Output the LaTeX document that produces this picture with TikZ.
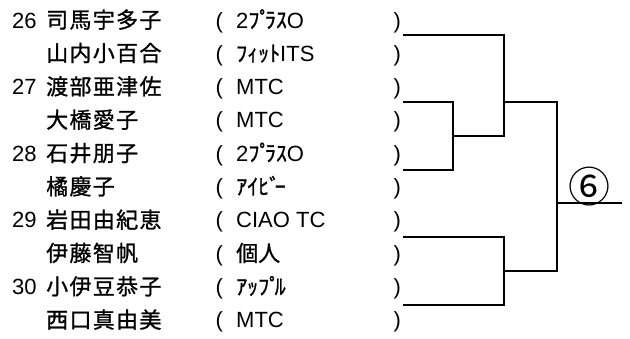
\documentclass[tikz,border=0pt]{standalone}
\usepackage{fontspec}
\setmainfont{Liberation Sans}
\newfontfamily\cjk{Noto Sans CJK JP}[FakeBold=1]
\newfontfamily\cjkplain{Noto Sans CJK JP}
\newcommand\dkn{\kern-0.25em}
\begin{document}
\begin{tikzpicture}[x=1pt,y=-1pt,
  txt/.style={anchor=base west,inner sep=0pt,font=\fontsize{22}{22}\selectfont},
  namestyle/.style={txt,font=\fontsize{22}{22}\cjk\addfontfeature{LetterSpace=6}},
  bracket/.style={line width=2.9pt,line join=miter,line cap=rect},
  seed/.style={anchor=center,inner sep=0pt,font=\fontsize{42}{42}\cjkplain}]
\useasboundingbox (0,0) rectangle (630,338);
\foreach \i/\n/\nm/\t in {1/26/司馬宇多子/2{\cjk ﾌﾟ\dkn ﾗｽ}O,
  2//山内小百合/{\cjk ﾌｨｯﾄ}ITS,
  3/27/渡部亜津佐/MTC,
  4//大橋愛子/MTC,
  5/28/石井朋子/2{\cjk ﾌﾟ\dkn ﾗｽ}O,
  6//橘慶子/{\cjk ｱｲﾋﾞ\dkn ｰ},
  7/29/岩田由紀恵/CIAO TC,
  8//伊藤智帆/{\cjk 個人},
  9/30/小伊豆恭子/{\cjk ｱｯﾌﾟ\dkn ﾙ},
  10//西口真由美/MTC}{
  \pgfmathsetmacro\yy{28+33.33*(\i-1)}
  \node[txt] (num\i) at (12,\yy) {\n};
  \node[namestyle] (name\i) at (46,\yy) {\nm};
  \node[txt] (lp\i) at (215.5,\yy) {(};
  \node[txt] (team\i) at (236,\yy) {\t};
  \node[txt] (rp\i) at (393.5,\yy) {)};
}
% bracket points
\coordinate (e1) at (404,35);
\coordinate (e2) at (404,102);
\coordinate (e3) at (404,170);
\coordinate (e4) at (404,237);
\coordinate (e5) at (404,305);
\coordinate (j23) at (453,136);
\coordinate (jA) at (504,102);
\coordinate (jB) at (504,271);
\coordinate (fin) at (557,203);
\coordinate (out) at (621,203);
\draw[bracket] (e2) -- (e2 -| j23) -- (e3 -| j23) -- (e3);
\draw[bracket] (j23) -- (j23 -| jA);
\draw[bracket] (e1) -- (e1 -| jA) -- (j23 -| jA);
\draw[bracket] (e4) -- (e4 -| jB) -- (e5 -| jB) -- (e5);
\draw[bracket] (jA) -- (jA -| fin) -- (jB -| fin) -- (jB);
\draw[bracket] (fin) -- (out);
\node[seed] (s6) at (589,187) {⑥};
\end{tikzpicture}
\end{document}
